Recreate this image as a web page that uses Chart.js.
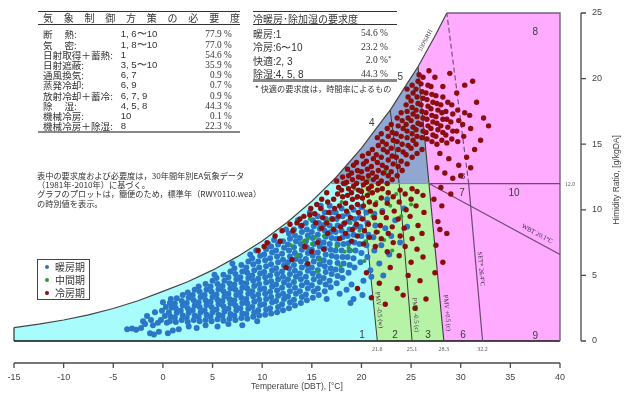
<!DOCTYPE html>
<html><head><meta charset="utf-8">
<script src="https://cdn.jsdelivr.net/npm/chart.js@4.4.0/dist/chart.umd.min.js"></script>
<style>
html,body{margin:0;padding:0;background:#fff;}
#wrap{position:relative;width:627px;height:394px;overflow:hidden;}
#c{position:absolute;left:0;top:0;}
#ov{position:absolute;left:0;top:0;width:627px;height:394px;pointer-events:none;}
.t{position:absolute;white-space:nowrap;color:#2a2a2a;font-family:"Noto Sans CJK JP",sans-serif;}
.rule{position:absolute;}
</style></head><body>
<div id="wrap"><canvas id="c" width="627" height="394"></canvas><div id="ov"></div></div>
<script>
// ---------- data ----------
const xTickValues=[-15,-10,-5,0,5,10,15,20,25,30,35,40];
const yTickValues=[0,5,10,15,20,25];
// saturation (100%RH) curve
const satT=[-15,-12.5,-10,-7.5,-5,-2.5,0,2.5,5,7.5,10,12.5,15,16.8,17.5,20,22.5,22.9,25,25.7,27.5,28.6];
const satW=[1.02,1.28,1.60,1.99,2.48,3.07,3.78,4.52,5.40,6.43,7.63,9.03,10.65,12.0,12.52,14.70,17.21,17.6,20.09,20.9,23.38,25.0];
const pmvWarm=[[21.6,0],[20.0,12]];
const pmvCool=[[25.1,0],[23.8,12],[22.9,17.6]];
const pmvHot=[[28.3,0],[26.8,12],[25.7,20.9]];
const setSolid=[[32.2,0],[30.8,12]];
const setDashed=[[30.8,12],[28.6,25]];
const wbtLine=[[26.8,12],[40,6.6]];
const humid12=[[16.8,12],[26.8,12],[40,12]];
const boundaryValues=[21.6,25.1,28.3,32.2];
const zoneNames=['1','2','3','6','9','7','10','8','8','4','5'];

const measureNames=['断熱','気密','日射取得＋蓄熱','日射遮蔽','通風換気','蒸発冷却','放射冷却＋蓄冷','除湿','機械冷房','機械冷房＋除湿'];
const measureZones=['1, 6〜10','1, 8〜10','1','3, 5〜10','6, 7','6, 9','6, 7, 9','4, 5, 8','10','8'];
const measurePct=['77.9','77.0','54.6','35.9','0.9','0.7','0.9','44.3','0.1','22.3'];
const demandNames=['暖房','冷房','快適','除湿'];
const demandZones=['1','6〜10','2, 3','4, 5, 8'];
const demandPct=['54.6','23.2','2.0','44.3'];
const seriesNames=['暖房期','中間期','冷房期'];

const heating=[
[-3.6,0.9],[-3.1,0.95],[-2.7,0.85],[-2.2,1.0],[-1.8,1.3],[-1.3,0.6],[-0.9,0.5],[-0.4,0.7],[0.5,0.6],[1.0,0.8],[-1.6,1.9],[-1.2,1.6],[-0.8,2.2],[-1.0,1.2],[1.6,0.9],[2.6,1.1],[3.4,1.0],[4.3,1.2],[5.5,1.1],[6.6,1.3],[8.0,1.2],[9.5,1.5],[-2.0,1.5],[-0.5,1.4],
[-0.2,1.6],[0.2,1.9],[-0.1,2.3],[0.3,2.6],[0.0,2.95],[0.4,1.4],
[0.7,1.5],[0.8,1.85],[0.6,2.2],[0.9,2.55],[0.7,2.9],[0.8,3.2],
[1.3,1.45],[1.2,1.8],[1.4,2.15],[1.3,2.5],[1.2,2.85],[1.4,3.25],
[1.9,1.6],[2.0,1.95],[1.8,2.3],[2.0,2.7],[1.9,3.05],[2.0,3.5],
[2.5,1.45],[2.4,1.8],[2.6,2.15],[2.5,2.5],[2.4,2.9],[2.6,3.3],[2.5,3.7],
[3.1,1.6],[3.2,1.95],[3.0,2.35],[3.2,2.7],[3.1,3.1],[3.0,3.5],[3.2,3.9],
[3.7,1.5],[3.6,1.85],[3.8,2.2],[3.7,2.6],[3.6,2.95],[3.8,3.35],[3.7,3.75],[3.6,4.15],
[4.3,1.6],[4.4,2.0],[4.2,2.35],[4.4,2.75],[4.3,3.1],[4.2,3.5],[4.4,3.9],[4.3,4.35],
[4.9,1.5],[4.8,1.85],[5.0,2.2],[4.9,2.6],[4.8,3.0],[5.0,3.35],[4.9,3.75],[4.8,4.15],[5.0,4.6],
[5.5,1.65],[5.6,2.0],[5.4,2.4],[5.6,2.8],[5.5,3.15],[5.4,3.55],[5.6,3.95],[5.5,4.35],[5.4,4.8],
[6.1,1.55],[6.0,1.9],[6.2,2.25],[6.1,2.65],[6.0,3.05],[6.2,3.4],[6.1,3.8],[6.0,4.2],[6.2,4.6],[6.1,5.05],
[6.7,1.7],[6.8,2.05],[6.6,2.45],[6.8,2.85],[6.7,3.2],[6.6,3.6],[6.8,4.0],[6.7,4.4],[6.6,4.85],[6.8,5.3],
[7.3,1.6],[7.2,1.95],[7.4,2.35],[7.3,2.7],[7.2,3.1],[7.4,3.5],[7.3,3.9],[7.2,4.3],[7.4,4.7],[7.3,5.1],[7.2,5.55],
[7.9,1.75],[8.0,2.1],[7.8,2.5],[8.0,2.9],[7.9,3.3],[7.8,3.7],[8.0,4.05],[7.9,4.45],[7.8,4.85],[8.0,5.3],[7.9,5.8],
[8.5,1.7],[8.4,2.05],[8.6,2.45],[8.5,2.85],[8.4,3.2],[8.6,3.6],[8.5,4.0],[8.4,4.4],[8.6,4.8],[8.5,5.2],[8.4,5.6],[8.6,6.05],
[9.1,1.85],[9.2,2.2],[9.0,2.6],[9.2,3.0],[9.1,3.4],[9.0,3.8],[9.2,4.2],[9.1,4.6],[9.0,5.0],[9.2,5.4],[9.1,5.85],[9.0,6.3],
[9.7,1.95],[9.6,2.35],[9.8,2.75],[9.7,3.15],[9.6,3.55],[9.8,3.95],[9.7,4.35],[9.6,4.75],[9.8,5.15],[9.7,5.6],[9.6,6.05],[9.8,6.5],
[10.3,2.0],[10.4,2.4],[10.2,2.8],[10.4,3.2],[10.3,3.6],[10.2,4.0],[10.4,4.45],[10.3,4.85],[10.2,5.25],[10.4,5.7],[10.3,6.15],[10.2,6.6],[10.4,7.0],
[10.9,2.1],[10.8,2.5],[11.0,2.95],[10.9,3.35],[10.8,3.75],[11.0,4.15],[10.9,4.55],[10.8,5.0],[11.0,5.4],[10.9,5.85],[10.8,6.3],[11.0,6.75],[10.9,7.2],
[11.5,2.2],[11.6,2.6],[11.4,3.05],[11.6,3.45],[11.5,3.85],[11.4,4.3],[11.6,4.7],[11.5,5.1],[11.4,5.55],[11.6,6.0],[11.5,6.45],[11.4,6.9],[11.6,7.35],
[12.1,2.35],[12.0,2.8],[12.2,3.2],[12.1,3.6],[12.0,4.05],[12.2,4.45],[12.1,4.9],[12.0,5.3],[12.2,5.75],[12.1,6.2],[12.0,6.65],[12.2,7.1],[12.1,7.6],
[12.7,2.5],[12.8,2.95],[12.6,3.4],[12.8,3.8],[12.7,4.25],[12.6,4.7],[12.8,5.1],[12.7,5.55],[12.6,6.0],[12.8,6.45],[12.7,6.9],[12.6,7.35],[12.8,7.8],[12.7,8.2],
[13.3,2.7],[13.2,3.15],[13.4,3.6],[13.3,4.05],[13.2,4.5],[13.4,4.9],[13.3,5.35],[13.2,5.8],[13.4,6.25],[13.3,6.7],[13.2,7.15],[13.4,7.6],[13.3,8.05],[13.2,8.5],
[13.9,2.9],[14.0,3.35],[13.8,3.8],[14.0,4.25],[13.9,4.7],[13.8,5.15],[14.0,5.6],[13.9,6.05],[13.8,6.5],[14.0,6.95],[13.9,7.4],[13.8,7.85],[14.0,8.3],[13.9,8.75],
[14.5,3.1],[14.4,3.55],[14.6,4.0],[14.5,4.45],[14.4,4.9],[14.6,5.35],[14.5,5.8],[14.4,6.25],[14.6,6.7],[14.5,7.15],[14.4,7.6],[14.6,8.05],[14.5,8.5],[14.4,9.0],
[15.1,3.3],[15.2,3.8],[15.0,4.25],[15.2,4.7],[15.1,5.15],[15.0,5.6],[15.2,6.05],[15.1,6.5],[15.0,6.95],[15.2,7.4],[15.1,7.85],[15.0,8.3],[15.2,8.75],[15.1,9.2],
[15.7,3.5],[15.6,4.0],[15.8,4.5],[15.7,4.95],[15.6,5.4],[15.8,5.85],[15.7,6.3],[15.6,6.75],[15.8,7.2],[15.7,7.65],[15.6,8.1],[15.8,8.55],[15.7,9.0],[15.6,9.5],
[16.3,3.8],[16.4,4.3],[16.2,4.8],[16.4,5.25],[16.3,5.7],[16.2,6.15],[16.4,6.6],[16.3,7.05],[16.2,7.5],[16.4,7.95],[16.3,8.4],[16.2,8.85],[16.4,9.3],[16.3,9.8],
[16.9,4.1],[16.8,4.6],[17.0,5.1],[16.9,5.55],[16.8,6.0],[17.0,6.5],[16.9,6.95],[16.8,7.4],[17.0,7.85],[16.9,8.3],[16.8,8.8],[17.0,9.3],[16.9,9.8],[16.8,10.3],
[17.5,4.4],[17.6,4.95],[17.4,5.45],[17.6,5.95],[17.5,6.4],[17.4,6.9],[17.6,7.35],[17.5,7.8],[17.4,8.3],[17.6,8.8],[17.5,9.3],[17.4,9.8],
[18.1,4.8],[18.0,5.4],[18.2,5.9],[18.1,6.4],[18.0,6.9],[18.2,7.4],[18.1,7.9],[18.0,8.4],[18.2,8.9],[18.1,9.5],[18.0,10.1],
[18.7,5.2],[18.8,5.8],[18.6,6.4],[18.8,6.9],[18.7,7.45],[18.6,8.0],[18.8,8.5],[18.7,9.1],[18.6,9.7],
[19.3,5.6],[19.2,6.3],[19.4,6.9],[19.3,7.5],[19.2,8.1],[19.4,8.7],[19.3,9.3],[19.2,10.0],
[19.9,6.0],[20.0,6.7],[19.8,7.4],[20.0,8.0],[19.9,8.7],[19.8,9.4],[20.0,10.2],
[20.6,6.4],[20.5,7.3],[20.7,8.1],[20.6,9.0],[20.5,9.8],
[21.3,6.9],[21.2,7.9],[21.4,8.8],[21.3,9.7],
[22.0,7.3],[22.4,8.6],[22.1,9.9],[22.8,6.6],[23.0,8.0],[23.4,9.2],[23.9,7.5],[24.3,10.1],[21.8,5.9],[20.9,5.4],[22.6,10.8],[24.6,8.7],
[17.8,3.6],[19.0,4.3],[20.2,4.6],[21.0,4.9],[18.5,3.9],[22.2,5.0],[16.5,3.2],[19.2,3.2],[20.1,3.5],[18.9,2.9],
[5.2,5.05],[7.0,5.9],[8.8,6.6],[10.6,7.4],[12.4,8.5],[13.6,9.2],[14.8,9.8],[15.9,10.3],[11.2,7.7],[9.4,6.9]
];
const intermediate=[
[14.2,7.6],[14.6,7.8],[15.3,7.9],[15.0,7.4],[18.3,6.8],[18.7,7.1],[19.0,6.9],[17.2,8.6],[16.6,9.2],[19.8,8.4],[20.4,7.6],[21.1,9.5],[22.3,7.7],[23.1,6.9],[16.0,10.1],[18.0,10.6],[19.5,10.9],[20.8,11.3],[17.5,7.2],[13.6,6.5],[12.9,7.3],[15.8,6.2],[21.7,8.3],[22.9,10.3],[24.0,9.5],[20.3,6.1],[18.9,9.0],[17.9,5.7],[16.2,8.0],[14.8,9.3],[19.3,11.6],[21.5,10.6],[23.5,11.2],[25.0,10.4],[15.5,5.3],[20.7,12.3],[22.4,12.9],[18.4,11.9]
];
const cooling=[
[24.6,16.0],[24.5,16.5],[24.7,17.0],[24.6,17.5],[24.5,18.0],[24.7,18.6],[24.6,19.2],
[25.1,15.8],[25.2,16.3],[25.0,16.8],[25.2,17.3],[25.1,17.8],[25.0,18.3],[25.2,18.9],[25.1,19.5],
[25.6,15.6],[25.5,16.1],[25.7,16.6],[25.6,17.1],[25.5,17.6],[25.7,18.1],[25.6,18.6],[25.5,19.2],[25.7,19.8],
[26.1,15.5],[26.2,16.0],[26.0,16.5],[26.2,17.0],[26.1,17.5],[26.0,18.0],[26.2,18.5],[26.1,19.0],[26.0,19.6],[26.2,20.1],
[26.6,15.4],[26.5,15.9],[26.7,16.4],[26.6,16.9],[26.5,17.4],[26.7,17.9],[26.6,18.4],[26.5,18.9],[26.7,19.5],
[27.1,15.2],[27.2,15.7],[27.0,16.2],[27.2,16.7],[27.1,17.2],[27.0,17.7],[27.2,18.2],[27.1,18.8],[27.0,19.4],
[27.6,15.0],[27.5,15.6],[27.7,16.1],[27.6,16.6],[27.5,17.1],[27.7,17.6],[27.6,18.1],[27.5,18.7],
[28.1,15.3],[28.2,15.9],[28.0,16.4],[28.2,16.9],[28.1,17.4],[28.0,18.0],[28.2,18.6],
[28.6,15.1],[28.5,15.7],[28.7,16.3],[28.6,16.9],[28.5,17.5],[28.7,18.2],
[29.1,15.4],[29.2,16.0],[29.0,16.7],[29.2,17.3],[29.1,18.0],
[29.7,15.2],[29.6,16.0],[29.8,16.8],[29.7,17.6],
[30.3,15.6],[30.2,16.5],[30.4,17.4],
[31.0,16.2],[30.9,17.2],
[27.4,20.1],[28.2,19.4],[29.6,18.9],[30.4,19.5],[31.2,19.8],[28.9,20.4],[26.8,20.6],[25.8,20.3],[31.6,18.2],[32.3,17.0],[32.0,15.3],[31.4,14.6],[30.6,14.0],[29.8,13.4],[28.8,13.9],[27.9,14.3],[32.8,16.4],[30.0,12.6],[29.2,12.4],[31.0,13.2],[28.4,12.8],[27.6,13.2],[29.0,11.2],[28.1,10.3],[27.7,9.1],[28.6,8.2],[27.5,7.3],[28.2,6.0],[27.4,5.2],[28.0,11.7],[27.3,10.8],[27.9,8.5],
[17.6,11.2],[17.7,11.7],[17.5,12.2],
[18.1,11.0],[18.0,11.5],[18.2,12.0],[18.1,12.5],
[18.6,11.1],[18.7,11.6],[18.5,12.1],[18.7,12.6],[18.6,13.1],
[19.1,10.8],[19.0,11.3],[19.2,11.8],[19.1,12.3],[19.0,12.8],[19.2,13.4],
[19.6,11.0],[19.7,11.5],[19.5,12.0],[19.7,12.5],[19.6,13.0],[19.5,13.6],
[20.1,10.9],[20.0,11.4],[20.2,11.9],[20.1,12.4],[20.0,12.9],[20.2,13.5],[20.1,14.1],
[20.6,11.1],[20.7,11.6],[20.5,12.1],[20.7,12.6],[20.6,13.1],[20.5,13.7],[20.7,14.3],
[21.1,11.3],[21.0,11.8],[21.2,12.3],[21.1,12.8],[21.0,13.3],[21.2,13.9],[21.1,14.6],
[21.6,11.5],[21.7,12.0],[21.5,12.5],[21.7,13.0],[21.6,13.6],[21.5,14.2],[21.7,14.9],[21.6,15.5],
[22.1,11.6],[22.0,12.2],[22.2,12.8],[22.1,13.4],[22.0,14.0],[22.2,14.6],[22.1,15.2],[22.0,15.8],
[22.6,12.0],[22.7,12.6],[22.5,13.2],[22.7,13.8],[22.6,14.4],[22.5,15.0],[22.7,15.6],[22.6,16.2],
[23.1,12.3],[23.0,12.9],[23.2,13.5],[23.1,14.1],[23.0,14.7],[23.2,15.3],[23.1,15.9],[23.0,16.5],
[23.6,12.6],[23.7,13.3],[23.5,14.0],[23.7,14.6],[23.6,15.2],[23.5,15.8],[23.7,16.4],[23.6,17.0],
[24.1,13.0],[24.0,13.7],[24.2,14.4],[24.1,15.0],[24.0,15.6],[24.2,16.2],[24.1,16.8],[24.0,17.4],
[24.6,13.5],[24.5,14.2],[24.7,14.9],[24.6,15.5],
[25.1,14.0],[25.0,14.7],[25.2,15.3],
[25.6,14.3],[25.5,15.0],
[26.1,14.6],
[14.8,9.6],[14.9,10.1],
[15.4,9.0],[15.3,9.7],[15.5,10.4],
[16.0,8.6],[16.1,9.4],[15.9,10.1],[16.0,10.8],
[16.6,8.2],[16.5,9.0],[16.7,9.8],[16.6,10.6],[16.5,11.3],
[17.2,8.5],[17.1,9.3],[17.3,10.1],[17.2,10.8],
[17.8,7.8],[17.9,8.7],[17.7,9.5],[17.8,10.3],
[18.4,8.2],[18.3,9.0],[18.5,9.9],[18.4,10.5],
[19.0,7.6],[19.1,8.5],[18.9,9.4],[19.0,10.2],
[19.6,8.0],[19.5,8.9],[19.7,9.8],[19.6,10.4],
[20.2,7.4],[20.3,8.4],[20.1,9.3],[20.2,10.3],
[20.8,7.9],[20.7,8.9],[20.9,9.9],[20.8,10.6],
[21.4,7.2],[21.5,8.3],[21.3,9.4],[21.4,10.4],
[22.0,7.8],[21.9,8.8],[22.1,9.8],[22.0,10.9],
[22.6,6.8],[22.7,8.2],[22.5,9.4],[22.6,10.5],[22.7,11.3],
[23.2,7.5],[23.1,8.7],[23.3,9.9],[23.2,11.0],
[23.8,6.5],[23.9,8.0],[23.7,9.3],[23.8,10.6],[23.9,11.5],
[24.4,7.2],[24.3,8.6],[24.5,10.0],[24.4,11.2],
[25.0,6.0],[25.1,7.8],[24.9,9.5],[25.0,10.8],[25.1,11.6],
[25.6,7.0],[25.7,8.8],[25.5,10.3],[25.6,11.4],
[26.2,6.4],[26.1,8.2],[26.3,9.8],[26.2,11.1],
[20.5,5.2],[21.8,4.4],[22.9,5.6],[23.6,4.0],[24.7,5.0],[25.9,4.6],[21.0,3.3],[22.4,2.8],[19.6,4.0],[26.5,3.2],[24.2,3.5],[25.4,2.5],
[10.5,7.5],[11.3,8.0],[12.0,8.4],[12.8,8.9],[13.5,9.0],[11.8,7.6],[13.1,8.4],[14.0,8.8],[10.2,7.2],[9.6,6.9],[14.3,7.2],[13.0,6.2],[15.0,6.8],[15.6,7.5],[16.2,7.0],[12.4,5.6],[14.6,5.9],[14.2,9.5],[13.8,9.3]
];

// ---------- styles ----------
const COL={heat:'#2b76c6',mid:'#2f9a38',cool:'#8a0e0e',cyan:'#a9fcfc',green:'#b6f3a6',blue:'#91a6d0',pink:'#ffabff',
  dark:'#3a3a3a',purple:'#6a4a72',axis:'#4a4a4a'};

const pts=a=>a.map(p=>({x:p[0],y:p[1]}));
const sat=satT.map((t,i)=>({x:t,y:satW[i]}));
const si=t=>satT.indexOf(t);
const cyanPoly=[...sat.slice(0,si(16.8)+1),...pts([pmvWarm[1],pmvWarm[0]]),{x:-15,y:0}];
const greenPoly=pts([pmvWarm[1],pmvHot[1],pmvHot[0],pmvWarm[0]]);
const bluePoly=[...sat.slice(si(16.8),si(25.7)+1),...pts([pmvHot[1]])];
const pinkPoly=[...sat.slice(si(25.7)),{x:40,y:25},{x:40,y:0},...pts([pmvHot[0],pmvHot[1]])];

function poly(data,color){return {data,showLine:true,fill:'shape',backgroundColor:color,borderColor:'rgba(0,0,0,0)',borderWidth:0,pointRadius:0,order:30};}
function line(data,color,w,dash){return {data,showLine:true,fill:false,borderColor:color,borderWidth:w,borderDash:dash||[],pointRadius:0,order:20,clip:false,tension:0};}
function dots(data,color,ord,r){return {data:pts(data),showLine:false,pointRadius:r,pointBackgroundColor:color,pointBorderWidth:0,pointBorderColor:color,order:ord};}

const datasets=[
 poly(cyanPoly,COL.cyan),poly(greenPoly,COL.green),poly(bluePoly,COL.blue),poly(pinkPoly,COL.pink),
 line(pts([humid12[0],humid12[1]]),'#8c96ac',1),
 line(pts([humid12[1],humid12[2]]),COL.purple,1.2),
 line(pts(pmvWarm),COL.dark,1),
 line(pts(pmvCool),COL.dark,1),
 line(pts(pmvHot),COL.dark,1.1),
 line(pts(setSolid),COL.purple,1.2),
 line(pts(setDashed),COL.purple,1.1,[5,3]),
 line(pts(wbtLine),COL.purple,1.2),
 line(sat,'#444',1.2),
 line([{x:satT[satT.length-1],y:25},{x:40,y:25},{x:40,y:0}],'#7a5e84',1.4),
 line([{x:-15,y:0},{x:40,y:0}],'#111',1.6),
 line([{x:-15,y:0},{x:-15,y:satW[0]}],'#333',1.2),
 dots(heating,COL.heat,3,3.0),dots(intermediate,COL.mid,2,2.0),dots(cooling,COL.cool,1,2.7)
];

function txt(ctx,s,x,y,font,color,align,base,rot){
  ctx.save();ctx.translate(x,y);if(rot)ctx.rotate(rot);
  ctx.font=font;ctx.fillStyle=color;ctx.textAlign=align||'center';ctx.textBaseline=base||'middle';
  ctx.fillText(s,0,0);ctx.restore();
}
const zonePos=[[20.06,0.46],[23.38,0.46],[26.7,0.46],[30.23,0.46],[37.5,0.4],[30.13,11.28],[35.37,11.28],[37.5,23.5],[30.2,12.55],[21.03,16.6],[23.9,20.1]];
const lineLabelDefs=[
 {s:'PMV -0.5 (w)',at:[21.77,2.36],dir:pmvWarm,rev:true},
 {s:'PMV -0.5 (c)',at:[25.45,1.98],dir:[pmvCool[1],pmvCool[0]]},
 {s:'PMV +0.5 (c)',at:[28.62,2.13],dir:[pmvHot[1],pmvHot[0]]},
 {s:'SET* 26.4°C',at:[32.05,5.49],dir:[setSolid[1],setSolid[0]]},
 {s:'WBT 20.1°C',at:[37.69,8.16],dir:wbtLine},
 {s:'100%RH',at:[26.45,22.9],dir:[[25.7,20.9],[28.6,25]]}
];

const decor={id:'decor',
 afterDatasetsDraw(chart){
  const ctx=chart.ctx,sx=chart.scales.x,sy=chart.scales.y;
  const X=v=>sx.getPixelForValue(v),Y=v=>sy.getPixelForValue(v);
  zoneNames.forEach((n,i)=>{const p=zonePos[i];txt(ctx,n,X(p[0]),Y(p[1]),(i===8?'9px':'10px')+' "Liberation Sans", Arial','#3a3a3a');});
  lineLabelDefs.forEach(d=>{
    let a=d.dir[0],b=d.dir[1]; if(d.rev){a=d.dir[1];b=d.dir[0];}
    const ang=Math.atan2(Y(b[1])-Y(a[1]),X(b[0])-X(a[0]));
    txt(ctx,d.s,X(d.at[0]),Y(d.at[1]),'6.5px "Liberation Serif", serif','#3c2a44','center','middle',ang);
  });
 },
 afterDraw(chart){
  const ctx=chart.ctx,sx=chart.scales.x,sy=chart.scales.y;
  const X=v=>sx.getPixelForValue(v),Y=v=>sy.getPixelForValue(v);
  ctx.save();
  boundaryValues.forEach(v=>txt(ctx,v.toFixed(1),X(v),Y(0)+8.5,'6px "Liberation Serif", serif','#555'));
  txt(ctx,'12.0',X(40)+10,Y(12)+0.5,'6px "Liberation Serif", serif','#555');
  const ay=Y(0)+22;
  ctx.strokeStyle=COL.axis;ctx.lineWidth=1.3;ctx.beginPath();
  ctx.moveTo(X(xTickValues[0]),ay);ctx.lineTo(X(xTickValues[xTickValues.length-1]),ay);
  xTickValues.forEach(v=>{ctx.moveTo(X(v),ay);ctx.lineTo(X(v),ay+5);});
  ctx.stroke();
  xTickValues.forEach(v=>txt(ctx,String(v),X(v),ay+14.5,'9px "Liberation Sans", Arial','#444'));
  txt(ctx,'Temperature (DBT), [°C]',X(13.5),ay+24,'8.5px "Liberation Sans", Arial','#444');
  const axx=X(40)+21;
  ctx.beginPath();ctx.moveTo(axx,Y(yTickValues[0]));ctx.lineTo(axx,Y(yTickValues[yTickValues.length-1]));
  yTickValues.forEach(v=>{ctx.moveTo(axx,Y(v));ctx.lineTo(axx+5,Y(v));});
  ctx.stroke();
  yTickValues.forEach(v=>txt(ctx,String(v),axx+11,Y(v),'9px "Liberation Sans", Arial','#444','left'));
  txt(ctx,'Himidity Ratio, [g/kgDA]',axx+36,Y(12.5)+3,'8.5px "Liberation Sans", Arial','#444','center','middle',-Math.PI/2);
  ctx.restore();
 }
};

new Chart(document.getElementById('c'),{
 type:'scatter',
 data:{datasets},
 options:{responsive:false,animation:false,events:[],
  layout:{padding:{left:14,right:67,top:13,bottom:53}},
  plugins:{legend:{display:false},tooltip:{enabled:false}},
  scales:{x:{type:'linear',min:-15,max:40,display:false},y:{type:'linear',min:0,max:25,display:false}}
 },
 plugins:[decor]
});

// ---------- overlay text (tables, notes, legend) ----------
const ov=document.getElementById('ov');
function addText(s,x,cy,fs,opt){
  opt=opt||{};const d=document.createElement('div');d.className='t';
  if(opt.html)d.innerHTML=s;else d.textContent=s;
  const lh=Math.round(fs*1.3);d.style.fontSize=fs+'px';d.style.lineHeight=lh+'px';d.style.top=(cy-lh/2)+'px';
  if(opt.right!==undefined)d.style.right=(627-opt.right)+'px';else d.style.left=x+'px';
  if(opt.font)d.style.fontFamily=opt.font;if(opt.color)d.style.color=opt.color;
  ov.appendChild(d);return d;
}
function rule(x,y,w,h,c){const d=document.createElement('div');d.className='rule';d.style.cssText=`left:${x}px;top:${y}px;width:${w}px;height:${h}px;background:${c}`;ov.appendChild(d);}
const SANS='"Liberation Sans", Arial, sans-serif',SERIF='"Liberation Serif", "Times New Roman", serif';
rule(38,11,202,1,'#333');rule(38,23.5,202,1,'#333');rule(38,130.5,202,2.5,'#888');
const hd=document.createElement('div');hd.className='t';hd.style.cssText='left:43px;top:11px;width:197px;display:flex;justify-content:space-between;font-size:10px;line-height:13px;color:#333';
'気象制御方策の必要度'.split('').forEach(c=>{const s=document.createElement('span');s.textContent=c;hd.appendChild(s);});ov.appendChild(hd);
measureNames.forEach((n,i)=>{
  const cy=34.3+i*10.2;
  const lab=n.length===2?`<span style="display:inline-block;width:31px;text-align:justify;text-align-last:justify">${n}</span>:`:n+':';
  addText(lab,43,cy,9.6,{html:true,color:'#333'});
  addText(measureZones[i],120.7,cy,9.6,{font:SANS,color:'#333'});
  addText(measurePct[i]+' %',0,cy,9.3,{font:SERIF,right:231.7,color:'#333'});
});
['表中の要求度および必要度は，30年間年別EA気象データ','（1981年-2010年）に基づく。','グラフのプロットは，簡便のため，標準年（RWY0110.wea）','の時別値を表示。']
 .forEach((s,i)=>addText(s,37,175+i*9.4,8.2,{color:'#333'}));
rule(253,11,144,1,'#333');rule(253,23.5,144,1,'#333');rule(253,79,144,2.5,'#888');
addText('冷暖房･除加湿の要求度',253,18,10,{color:'#333'});
demandNames.forEach((n,i)=>{
  const cy=33.3+i*13.4;
  addText(n+'<span style="font-family:'+"'Liberation Sans',Arial"+'">:'+demandZones[i]+'</span>',253,cy,10,{html:true,color:'#333'});
  addText(demandPct[i]+' %'+(n==='快適'?'<span style="position:absolute;left:100%;top:-2px;font-size:7px">*</span>':''),0,cy,9.5,{html:true,font:SERIF,right:388,color:'#333'});
});
addText('* 快適の要求度は，時間率によるもの',255,88.5,8.2,{color:'#333'});
const lg=document.createElement('div');lg.style.cssText='position:absolute;left:37px;top:259px;width:51px;height:39px;border:1.5px solid #444;background:#fff';ov.appendChild(lg);
[COL.heat,COL.mid,COL.cool].forEach((c,i)=>{
  const cy=266.7+i*13;
  const dot=document.createElement('div');dot.style.cssText=`position:absolute;left:45px;top:${cy-2}px;width:4px;height:4px;border-radius:2px;background:${c}`;ov.appendChild(dot);
  addText(seriesNames[i],55,cy,10,{color:'#333'});
});
</script>
</body></html>
